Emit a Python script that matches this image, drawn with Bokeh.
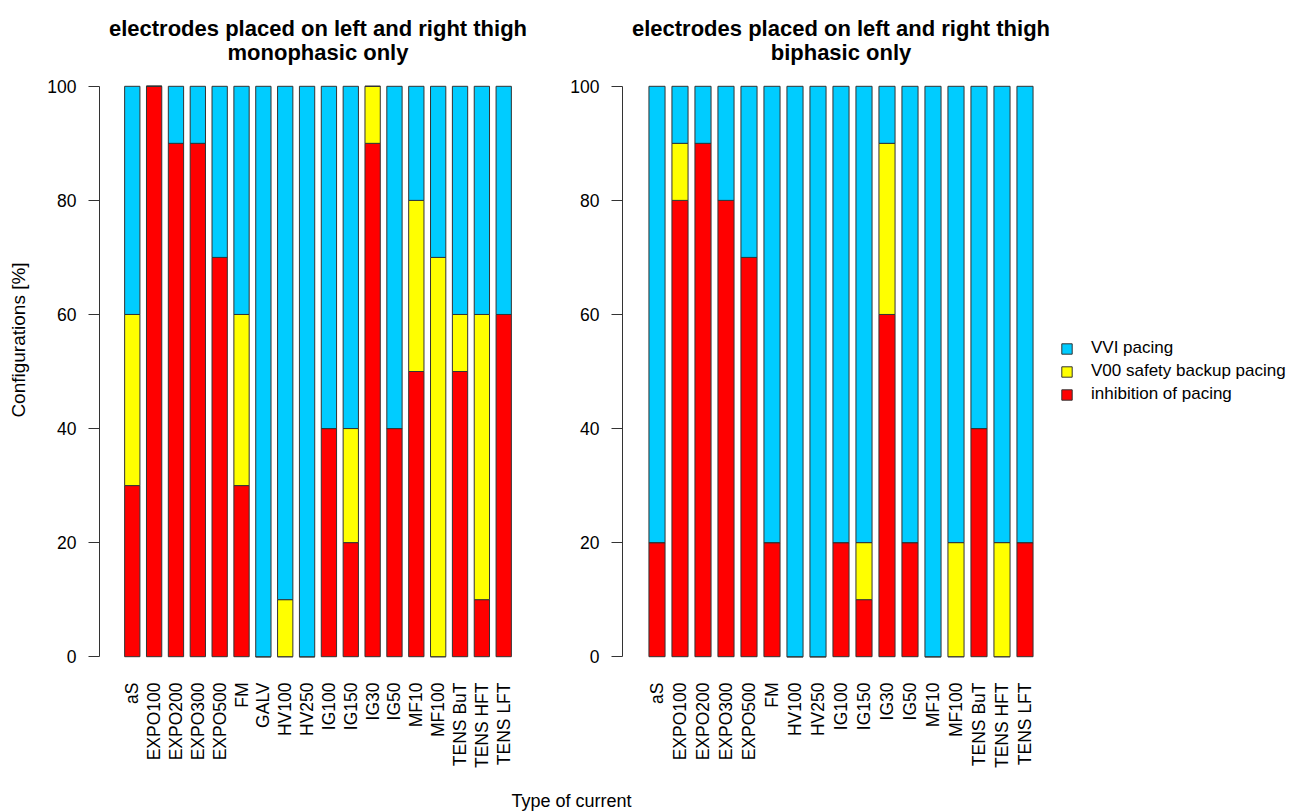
import math
from bokeh.plotting import figure
from bokeh.models import (FactorRange, Range1d, FixedTicker, Legend,
                          LegendItem, Label, ColumnDataSource)
from bokeh.layouts import column, row
from bokeh.embed import file_html
from bokeh.resources import INLINE

# ---------------- data ----------------
cats_mono = ["aS", "EXPO100", "EXPO200", "EXPO300", "EXPO500", "FM", "GALV",
             "HV100", "HV250", "IG100", "IG150", "IG30", "IG50", "MF10",
             "MF100", "TENS BuT", "TENS HFT", "TENS LFT"]
inhib_mono = [30, 100, 90, 90, 70, 30, 0, 0, 0, 40, 20, 90, 40, 50, 0, 50, 10, 60]
v00_mono = [30, 0, 0, 0, 0, 30, 0, 10, 0, 0, 20, 10, 0, 30, 70, 10, 50, 0]
vvi_mono = [40, 0, 10, 10, 30, 40, 100, 90, 100, 60, 60, 0, 60, 20, 30, 40, 40, 40]

cats_bi = ["aS", "EXPO100", "EXPO200", "EXPO300", "EXPO500", "FM", "HV100",
           "HV250", "IG100", "IG150", "IG30", "IG50", "MF10", "MF100",
           "TENS BuT", "TENS HFT", "TENS LFT"]
inhib_bi = [20, 80, 90, 80, 70, 20, 0, 0, 20, 10, 60, 20, 0, 0, 40, 0, 20]
v00_bi = [0, 10, 0, 0, 0, 0, 0, 0, 0, 10, 30, 0, 0, 20, 0, 20, 0]
vvi_bi = [80, 10, 10, 20, 30, 80, 100, 100, 80, 80, 10, 80, 100, 80, 60, 80, 80]

series_labels = ["inhibition of pacing", "V00 safety backup pacing", "VVI pacing"]
y_ticks = [0, 20, 40, 60, 80, 100]
title_main = "electrodes placed on left and right thigh"
sub_mono = "monophasic only"
sub_bi = "biphasic only"
x_title = "Type of current"
y_title = "Configurations [%]"

# ---------------- style / geometry ----------------
RED, YELLOW, BLUE = "#FF0000", "#FFFF00", "#00CCFF"
EDGE = "#333333"
FONT = "Liberation Sans"
H = 785                 # canvas height of the panels
FRAME_BOTTOM = 679      # canvas px of frame bottom (frame top is 0)
PX_100, PX_0 = 85.8, 656.2
PPU = (PX_0 - PX_100) / 100.0
Y_LO = -(FRAME_BOTTOM - PX_0) / PPU
Y_HI = 100 + PX_100 / PPU
T1_Y = 100 + (PX_100 - 27.5) / PPU   # title line anchors
T2_Y = 100 + (PX_100 - 51.5) / PPU
BORDERS = dict(min_border_top=0, min_border_bottom=H - FRAME_BOTTOM)


def panel(cats, inhib, v00, vvi, sub, width, mbl, mbr, ylabel):
    src = ColumnDataSource(dict(cat=cats, inhib=inhib, v00=v00, vvi=vvi))
    p = figure(x_range=FactorRange(factors=cats, range_padding=1.0,
                                   range_padding_units="absolute"),
               y_range=Range1d(Y_LO, Y_HI), width=width, height=H,
               output_backend="svg", toolbar_location=None, title=None,
               min_border_left=mbl, min_border_right=mbr, **BORDERS)
    rs = p.vbar_stack(["inhib", "v00", "vvi"], x="cat", width=0.7,
                      fill_color=[RED, YELLOW, BLUE], line_color=EDGE,
                      line_width=1, source=src)
    xc = len(cats) / 2.0
    for txt, yy in ((title_main, T1_Y), (sub, T2_Y)):
        p.add_layout(Label(x=xc, y=yy, text=txt, text_align="center",
                           text_baseline="alphabetic", text_font=FONT,
                           text_font_size="22px", text_font_style="bold",
                           text_color="black"))
    p.outline_line_color = None
    p.xgrid.visible = False
    p.ygrid.visible = False
    p.background_fill_color = "white"
    p.border_fill_color = "white"

    xa = p.xaxis[0]
    xa.axis_line_color = None
    xa.major_tick_line_color = None
    xa.minor_tick_line_color = None
    xa.major_tick_out = 0
    xa.major_tick_in = 0
    xa.major_label_orientation = math.pi / 2
    xa.major_label_standoff = 3
    xa.major_label_text_font = FONT
    xa.major_label_text_font_size = "17.5px"
    xa.major_label_text_color = "black"

    ya = p.yaxis[0]
    ya.bounds = (0, 100)
    ya.ticker = FixedTicker(ticks=y_ticks)
    ya.axis_line_color = EDGE
    ya.major_tick_line_color = EDGE
    ya.minor_tick_line_color = None
    ya.major_tick_out = 11
    ya.major_tick_in = 0
    ya.major_label_standoff = 12
    ya.major_label_orientation = "horizontal"
    ya.major_label_text_font = FONT
    ya.major_label_text_font_size = "17.5px"
    ya.major_label_text_color = "black"
    if ylabel:
        ya.axis_label = ylabel
        ya.axis_label_text_font = FONT
        ya.axis_label_text_font_size = "19px"
        ya.axis_label_text_font_style = "normal"
        ya.axis_label_text_color = "black"
        ya.axis_label_standoff = 15
    return p, rs


p1, r1 = panel(cats_mono, inhib_mono, v00_mono, vvi_mono, sub_mono,
               553, 99, 17, y_title)
p2, r2 = panel(cats_bi, inhib_bi, v00_bi, vvi_bi, sub_bi,
               506, 69, 0, None)

# legend in its own small canvas; its swatch renderers sit outside the view
pl = figure(width=243, height=H, output_backend="svg",
            toolbar_location=None, x_axis_type=None, y_axis_type=None,
            min_border_left=0, min_border_right=0, title=None,
            x_range=Range1d(0, 1), y_range=Range1d(0, 1), **BORDERS)
pl.outline_line_color = None
pl.xgrid.visible = False
pl.ygrid.visible = False
hidden = ColumnDataSource(dict(x=[50.0], top=[51.0]))
lr = [pl.vbar(x="x", top="top", bottom=50.0, width=0.5, fill_color=c,
              line_color=EDGE, line_width=1, source=hidden)
      for c in (BLUE, YELLOW, RED)]
LEG_TOP = 338
LEG_H = 3 * 20 + 2 * 3
legend = Legend(items=[LegendItem(label=series_labels[2], renderers=[lr[0]]),
                       LegendItem(label=series_labels[1], renderers=[lr[1]]),
                       LegendItem(label=series_labels[0], renderers=[lr[2]])],
                location=(1, FRAME_BOTTOM - LEG_TOP - LEG_H),
                orientation="vertical",
                glyph_width=13, glyph_height=13, label_standoff=18,
                label_height=13, spacing=3, padding=0, margin=0,
                border_line_color=None, background_fill_alpha=0,
                label_text_font=FONT, label_text_font_size="17px",
                label_text_color="black")
pl.add_layout(legend, "center")

# bottom strip with the shared x-axis title
SH = 812 - H
pt = figure(width=1302, height=SH, x_range=Range1d(0, 1302),
            y_range=Range1d(0, SH), output_backend="svg",
            toolbar_location=None, x_axis_type=None, y_axis_type=None,
            min_border=0, title=None)
pt.outline_line_color = None
pt.xgrid.visible = False
pt.ygrid.visible = False
pt.add_layout(Label(x=571, y=12, text=x_title, text_align="center",
                    text_baseline="alphabetic", text_font=FONT,
                    text_font_size="18px", text_color="black"))

layout = column(row(p1, p2, pl), pt)
open("out.html", "w").write(file_html(layout, INLINE))
